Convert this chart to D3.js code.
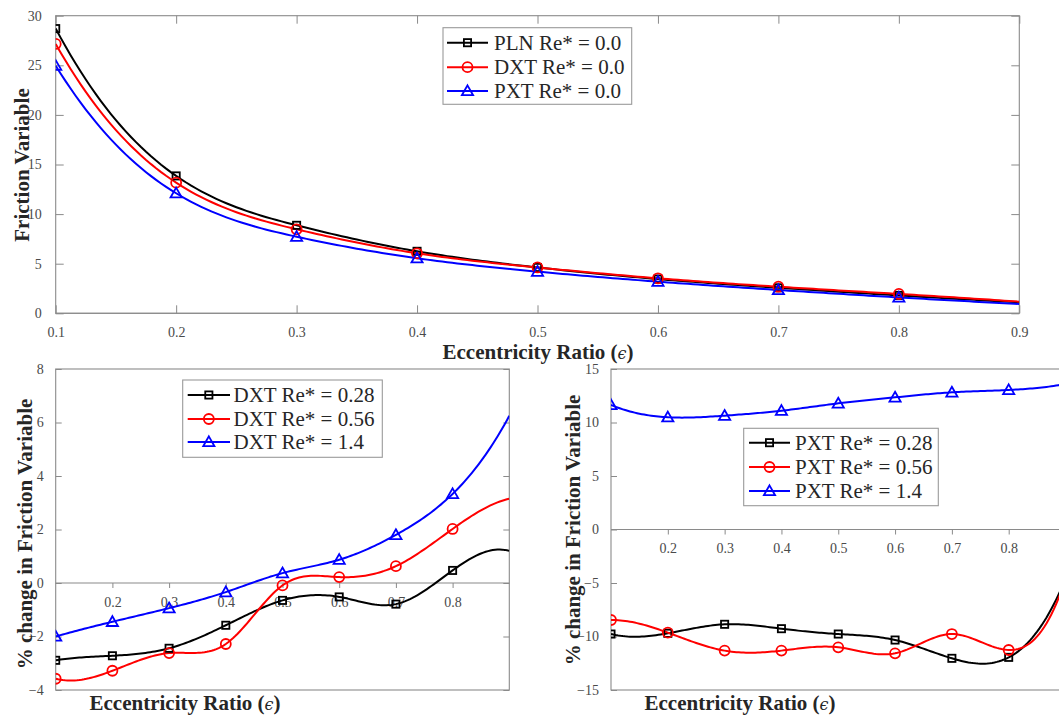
<!DOCTYPE html>
<html>
<head>
<meta charset="utf-8">
<script src="https://cdn.jsdelivr.net/npm/d3@7"></script>
<style>
  html, body { margin: 0; padding: 0; background: #fff; overflow: hidden; }
  svg { display: block; }
  svg text { font-family: "Liberation Serif", "Times New Roman", Tinos, Times, "DejaVu Serif", serif; }
</style>
</head>
<body>
<svg id="fig" width="1059" height="717"></svg>
<script>
// Eccentricity ratio grid shared by every panel
const eps = [0.1, 0.2, 0.3, 0.4, 0.5, 0.6, 0.7, 0.8, 0.9];
const markerCount = 8; // markers are drawn at 0.1 ... 0.8

// Panel (a): friction variable at Re* = 0
const plnRe0 = [28.7, 13.85, 8.87, 6.25, 4.62, 3.45, 2.57, 1.8, 1.1];
const dxtRe0 = [27.15, 13.17, 8.47, 6.05, 4.62, 3.53, 2.68, 1.95, 1.17];
const pxtRe0 = [24.96, 12.1, 7.72, 5.55, 4.2, 3.19, 2.35, 1.6, 0.94];

// Panel (b): % change, DXT texture
const dxtRe028 = [-2.89, -2.72, -2.44, -1.58, -0.65, -0.52, -0.79, 0.47, 1.2];
const dxtRe056 = [-3.58, -3.28, -2.62, -2.28, -0.09, 0.22, 0.63, 2.02, 3.15];
const dxtRe14  = [-2.0, -1.45, -0.94, -0.34, 0.37, 0.87, 1.8, 3.33, 6.25];

// Panel (c): % change, PXT texture
const pxtRe028 = [-9.77, -9.7, -8.86, -9.27, -9.77, -10.33, -12.04, -11.95, -4.6];
const pxtRe056 = [-8.46, -9.64, -11.32, -11.32, -11.01, -11.57, -9.77, -11.26, -4.6];
const pxtRe14  = [11.64, 10.49, 10.64, 11.1, 11.79, 12.35, 12.82, 13.04, 13.6];

// Tick values
const xTicksTop = [0.1, 0.2, 0.3, 0.4, 0.5, 0.6, 0.7, 0.8, 0.9];
const yTicksTop = [0, 5, 10, 15, 20, 25, 30];
const xTicksBottom = [0.2, 0.3, 0.4, 0.5, 0.6, 0.7, 0.8];
const yTicksDxt = [-4, -2, 0, 2, 4, 6, 8];
const yTicksPxt = [-15, -10, -5, 0, 5, 10, 15];

const AXIS = "#8a8a8a";
const LABEL = "#4a4a4a";
const TITLE = "#262626";
const SERIF = '"Liberation Serif", "Times New Roman", Tinos, Times, "DejaVu Serif", serif';

const svg = d3.select("#fig");

// Not-a-knot cubic spline through (xs, ys), sampled densely
function spline(xs, ys, samples) {
  const n = xs.length;
  const h = d3.range(n - 1).map(i => xs[i + 1] - xs[i]);
  const A = d3.range(n).map(() => new Array(n).fill(0));
  const b = new Array(n).fill(0);
  // not-a-knot at the second point
  A[0][0] = h[1]; A[0][1] = -(h[0] + h[1]); A[0][2] = h[0];
  for (let i = 1; i < n - 1; i++) {
    A[i][i - 1] = h[i - 1];
    A[i][i] = 2 * (h[i - 1] + h[i]);
    A[i][i + 1] = h[i];
    b[i] = 6 * ((ys[i + 1] - ys[i]) / h[i] - (ys[i] - ys[i - 1]) / h[i - 1]);
  }
  // not-a-knot at the second-last point
  A[n - 1][n - 3] = h[n - 2]; A[n - 1][n - 2] = -(h[n - 3] + h[n - 2]); A[n - 1][n - 1] = h[n - 3];
  // Gaussian elimination with partial pivoting
  for (let c = 0; c < n; c++) {
    let p = c;
    for (let r = c + 1; r < n; r++) if (Math.abs(A[r][c]) > Math.abs(A[p][c])) p = r;
    [A[c], A[p]] = [A[p], A[c]]; [b[c], b[p]] = [b[p], b[c]];
    for (let r = c + 1; r < n; r++) {
      const f = A[r][c] / A[c][c];
      for (let k = c; k < n; k++) A[r][k] -= f * A[c][k];
      b[r] -= f * b[c];
    }
  }
  const M = new Array(n).fill(0);
  for (let r = n - 1; r >= 0; r--) {
    let s = b[r];
    for (let k = r + 1; k < n; k++) s -= A[r][k] * M[k];
    M[r] = s / A[r][r];
  }
  const out = [];
  for (let i = 0; i < n - 1; i++) {
    for (let j = 0; j < samples; j++) {
      const x = xs[i] + h[i] * j / samples;
      const a = xs[i + 1] - x, d = x - xs[i];
      const y = M[i] * a * a * a / (6 * h[i]) + M[i + 1] * d * d * d / (6 * h[i])
        + (ys[i] / h[i] - M[i] * h[i] / 6) * a + (ys[i + 1] / h[i] - M[i + 1] * h[i] / 6) * d;
      out.push([x, y]);
    }
  }
  out.push([xs[n - 1], ys[n - 1]]);
  return out;
}

function drawMarker(g, shape, cx, cy, color) {
  if (shape === "square") {
    g.append("rect").attr("x", cx - 3.6).attr("y", cy - 3.6).attr("width", 7.2).attr("height", 7.2)
      .attr("fill", "none").attr("stroke", color).attr("stroke-width", 1.8);
  } else if (shape === "circle") {
    g.append("circle").attr("cx", cx).attr("cy", cy).attr("r", 5)
      .attr("fill", "none").attr("stroke", color).attr("stroke-width", 1.8);
  } else {
    const s = 5.6;
    g.append("path")
      .attr("d", `M${cx},${cy - s}L${cx + s},${cy + s * 0.75}L${cx - s},${cy + s * 0.75}Z`)
      .attr("fill", "none").attr("stroke", color).attr("stroke-width", 1.8);
  }
}

function styleTickText(sel) {
  sel.attr("fill", LABEL).attr("font-family", SERIF).style("font-family", SERIF).style("font-size", "14px");
}

function panel(opts) {
  const { xRange, yRange, yDomain, series, yTicks, xTicks, zeroAxis, topTicks } = opts;
  const x = d3.scaleLinear().domain([0.1, 0.9]).range(xRange);
  const y = d3.scaleLinear().domain(yDomain).range(yRange);
  const g = svg.append("g");
  const clipId = "clip" + Math.round(xRange[0]) + "_" + Math.round(yRange[1]);
  svg.append("clipPath").attr("id", clipId).append("rect")
    .attr("x", xRange[0]).attr("y", yRange[1])
    .attr("width", xRange[1] - xRange[0]).attr("height", yRange[0] - yRange[1]);

  const tl = opts.tickLen;
  // box
  g.append("rect").attr("x", xRange[0]).attr("y", yRange[1])
    .attr("width", xRange[1] - xRange[0]).attr("height", yRange[0] - yRange[1])
    .attr("fill", "none").attr("stroke", AXIS).attr("stroke-width", 1.1);

  // y axis ticks (left, inward) with labels, plus mirrored ticks on the right
  const yAx = d3.axisLeft(y).tickValues(yTicks).tickSizeInner(-tl).tickSizeOuter(0).tickPadding(tl + 6)
    .tickFormat(d3.format("d"));
  const ya = g.append("g").attr("transform", `translate(${xRange[0]},0)`).call(yAx);
  ya.select(".domain").remove();
  ya.selectAll("line").attr("stroke", AXIS);
  styleTickText(ya.selectAll("text"));
  const yr = g.append("g").attr("transform", `translate(${xRange[1]},0)`)
    .call(d3.axisRight(y).tickValues(yTicks).tickSizeInner(-tl).tickSizeOuter(0).tickFormat(""));
  yr.select(".domain").remove();
  yr.selectAll("line").attr("stroke", AXIS);

  // x axis
  const xPos = zeroAxis ? y(0) : yRange[0];
  const xAx = d3.axisBottom(x).tickValues(xTicks).tickSizeOuter(0)
    .tickSizeInner(zeroAxis ? 5 : -tl).tickPadding(zeroAxis ? 9 : tl + 6).tickFormat(d3.format(".1f"));
  const xa = g.append("g").attr("transform", `translate(0,${xPos})`).call(xAx);
  xa.select(".domain").attr("stroke", AXIS).attr("stroke-width", 1.1)
    .attr("d", `M${xRange[0]},0H${xRange[1]}`);
  xa.selectAll("line").attr("stroke", AXIS);
  styleTickText(xa.selectAll("text"));
  if (topTicks) {
    const xt = g.append("g").attr("transform", `translate(0,${yRange[1]})`)
      .call(d3.axisTop(x).tickValues(xTicks).tickSizeInner(-tl).tickSizeOuter(0).tickFormat(""));
    xt.select(".domain").remove();
    xt.selectAll("line").attr("stroke", AXIS);
  }

  // series curves and markers
  const line = d3.line().x(d => x(d[0])).y(d => y(d[1])).curve(d3.curveLinear);
  const plot = g.append("g").attr("clip-path", `url(#${clipId})`);
  series.forEach(s => {
    plot.append("path").datum(spline(eps, s.values, 24))
      .attr("d", line).attr("fill", "none").attr("stroke", s.color).attr("stroke-width", 2);
  });
  series.forEach(s => {
    const mg = plot.append("g");
    eps.slice(0, markerCount).forEach((e, i) => drawMarker(mg, s.shape, x(e), y(s.values[i]), s.color));
  });

  // legend
  const L = opts.legend;
  const lg = g.append("g");
  lg.append("rect").attr("x", L.x).attr("y", L.y).attr("width", L.w).attr("height", L.h)
    .attr("fill", "#fff").attr("stroke", "#9a9a9a").attr("stroke-width", 1.1);
  series.forEach((s, i) => {
    const cy = L.rows[i];
    lg.append("line").attr("x1", L.lx1).attr("x2", L.lx2).attr("y1", cy).attr("y2", cy)
      .attr("stroke", s.color).attr("stroke-width", 2);
    drawMarker(lg, s.shape, (L.lx1 + L.lx2) / 2, cy, s.color);
    lg.append("text").attr("x", L.tx).attr("y", cy + 7).attr("fill", TITLE)
      .attr("font-family", SERIF).style("font-size", "21px").text(s.name);
  });

  // axis titles
  const xt = g.append("text").attr("x", opts.xTitle[0]).attr("y", opts.xTitle[1])
    .attr("text-anchor", "middle").attr("fill", TITLE).attr("font-family", SERIF)
    .style("font-size", "21px").style("font-weight", "bold");
  xt.append("tspan").text("Eccentricity Ratio (");
  xt.append("tspan").style("font-weight", "normal").style("font-style", "italic")
    .style("font-family", '"DejaVu Serif", serif').style("font-size", "16px").text("\u03f5");
  xt.append("tspan").text(")");
  g.append("text").attr("transform", `translate(${opts.yTitle[0]},${opts.yTitle[1]}) rotate(-90)`)
    .attr("text-anchor", "middle").attr("fill", TITLE).attr("font-family", SERIF)
    .style("font-size", "21px").style("font-weight", "bold").text(opts.yTitleText);
}

panel({
  xRange: [55.7, 1019.3], yRange: [313.3, 15.7], yDomain: [0, 30],
  yTicks: yTicksTop, xTicks: xTicksTop, zeroAxis: false, topTicks: true, tickLen: 8,
  series: [
    { name: "PLN Re* = 0.0", values: plnRe0, color: "#000000", shape: "square" },
    { name: "DXT Re* = 0.0", values: dxtRe0, color: "#ff0000", shape: "circle" },
    { name: "PXT Re* = 0.0", values: pxtRe0, color: "#0000ff", shape: "triangle" }
  ],
  legend: { x: 443, y: 27.7, w: 188.7, h: 76.6, rows: [42.7, 67.2, 91], lx1: 447, lx2: 488, tx: 494 },
  xTitle: [538, 359], yTitle: [29, 165], yTitleText: "Friction Variable"
});

panel({
  xRange: [55.7, 509.3], yRange: [690, 369], yDomain: [-4, 8],
  yTicks: yTicksDxt, xTicks: xTicksBottom, zeroAxis: true, topTicks: false, tickLen: 6,
  series: [
    { name: "DXT Re* = 0.28", values: dxtRe028, color: "#000000", shape: "square" },
    { name: "DXT Re* = 0.56", values: dxtRe056, color: "#ff0000", shape: "circle" },
    { name: "DXT Re* = 1.4", values: dxtRe14, color: "#0000ff", shape: "triangle" }
  ],
  legend: { x: 182.7, y: 380, w: 199.6, h: 77.3, rows: [395, 419, 442], lx1: 187.7, lx2: 230, tx: 233.5 },
  xTitle: [185, 710], yTitle: [32, 534], yTitleText: "% change in Friction Variable"
});

panel({
  xRange: [611, 1065.5], yRange: [690, 369], yDomain: [-15, 15],
  yTicks: yTicksPxt, xTicks: xTicksBottom, zeroAxis: true, topTicks: false, tickLen: 6,
  series: [
    { name: "PXT Re* = 0.28", values: pxtRe028, color: "#000000", shape: "square" },
    { name: "PXT Re* = 0.56", values: pxtRe056, color: "#ff0000", shape: "circle" },
    { name: "PXT Re* = 1.4", values: pxtRe14, color: "#0000ff", shape: "triangle" }
  ],
  legend: { x: 743.7, y: 428.3, w: 194.6, h: 77.4, rows: [442.7, 467, 491], lx1: 749, lx2: 790, tx: 795 },
  xTitle: [740, 710], yTitle: [580, 530], yTitleText: "% change in Friction Variable"
});
</script>
</body>
</html>
